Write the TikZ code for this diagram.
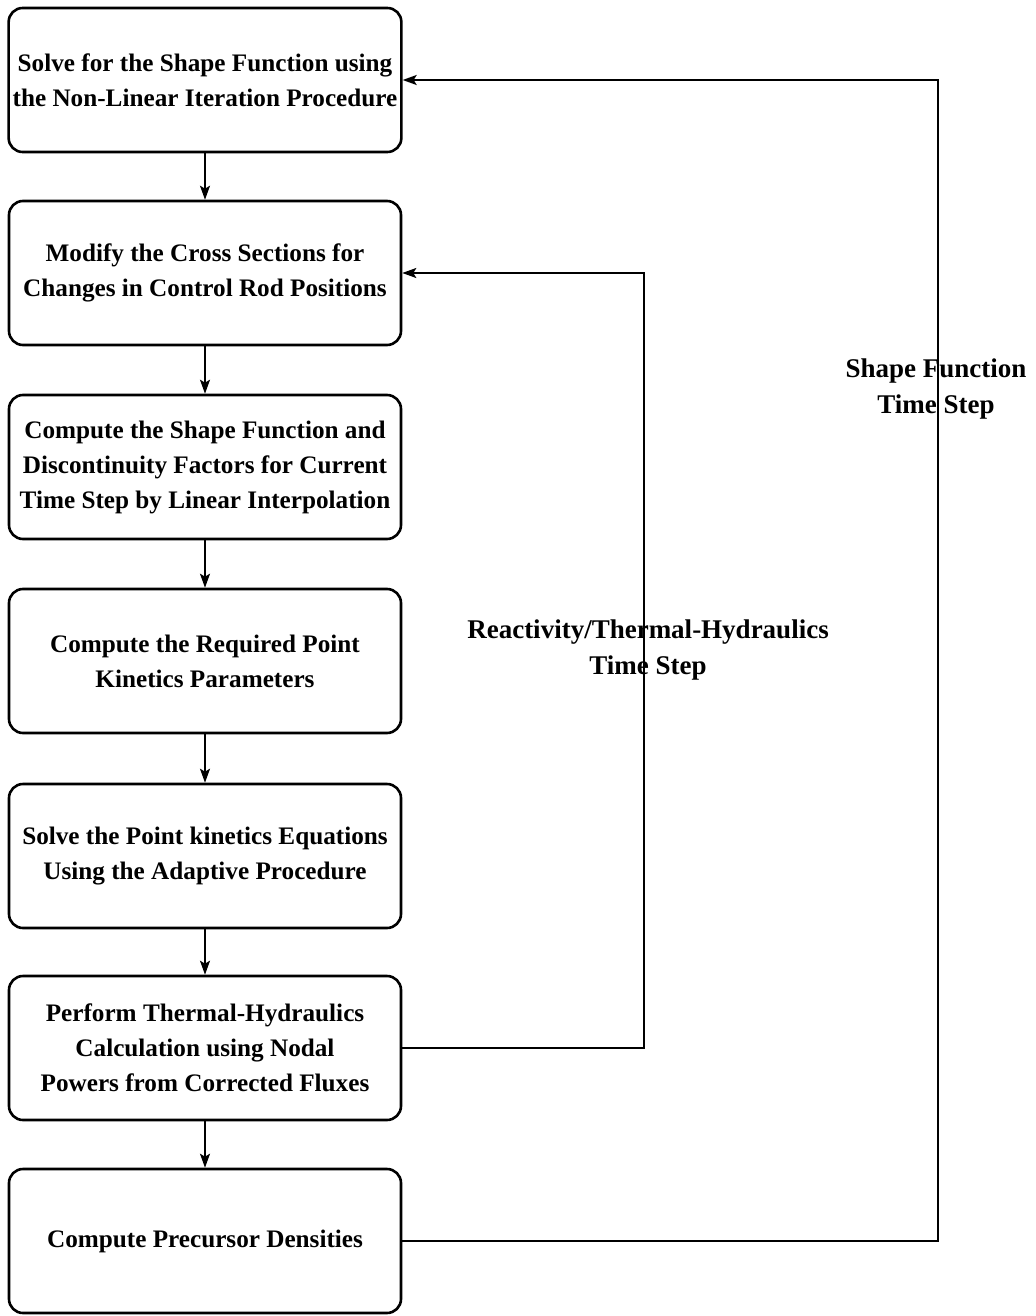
\documentclass[tikz,border=0pt]{standalone}
\usepackage{fontspec}
\setmainfont{Liberation Serif}
\usetikzlibrary{arrows.meta}
\tikzset{etape/.style={draw, line width=1.3pt, rounded corners=7pt, minimum width=196pt, minimum height=72pt, inner sep=2pt, align=center, font=\bfseries\fontsize{12.6}{17.5}\selectfont},
  fleche/.style={line width=0.9pt, -{Stealth[length=7pt,width=5pt,inset=1.5pt]}},
  boucle/.style={font=\bfseries\fontsize{13.5}{18}\selectfont, align=center}}

\begin{document}
\begin{tikzpicture}[x=0.5pt,y=-0.5pt]
\useasboundingbox (0,0) rectangle (1035,1316);

\node[etape] (b1) at (205,80) {Solve for the Shape Function using\\the Non-Linear Iteration Procedure};
\node[etape] (b2) at (205,273) {Modify the Cross Sections for\\Changes in Control Rod Positions};
\node[etape] (b3) at (205,467) {Compute the Shape Function and\\Discontinuity Factors for Current\\Time Step by Linear Interpolation};
\node[etape] (b4) at (205,661) {Compute the Required Point\\Kinetics Parameters};
\node[etape] (b5) at (205,856) {Solve the Point kinetics Equations\\Using the Adaptive Procedure};
\node[etape] (b6) at (205,1048) {Perform Thermal-Hydraulics\\Calculation using Nodal\\Powers from Corrected Fluxes};
\node[etape] (b7) at (205,1241) {Compute Precursor Densities};

\draw[fleche] (b1) -- (b2);
\draw[fleche] (b2) -- (b3);
\draw[fleche] (b3) -- (b4);
\draw[fleche] (b4) -- (b5);
\draw[fleche] (b5) -- (b6);
\draw[fleche] (b6) -- (b7);

% retours
\coordinate (r1) at (644,1048);
\coordinate (r2) at (938,1241);
\draw[fleche] (b6.east) -- (r1) |- (b2.east);
\draw[fleche] (b7.east) -- (r2) |- (b1.east);

\node[boucle] (lab1) at (648,650) {Reactivity/Thermal-Hydraulics\\Time Step};
\node[boucle] (lab2) at (936,389) {Shape Function\\Time Step};
\end{tikzpicture}
\end{document}
